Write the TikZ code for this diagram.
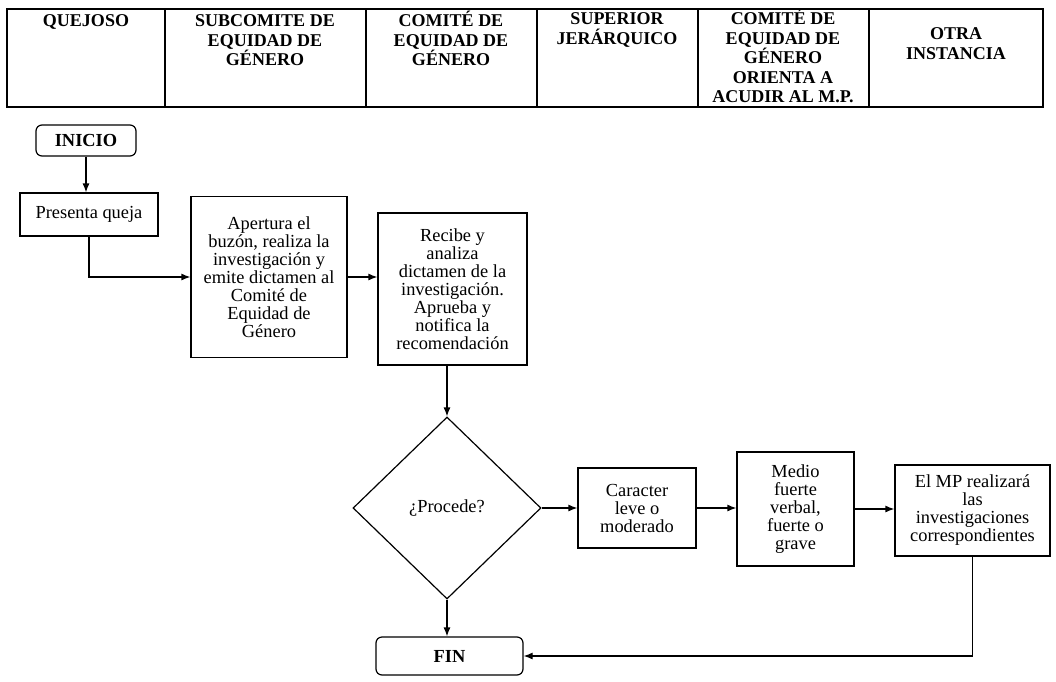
\documentclass[tikz,border=0pt]{standalone}
\usepackage{fontspec}
\setmainfont{Liberation Serif}
\usetikzlibrary{shapes.geometric,arrows.meta}
\newcommand{\hdstrut}{\rule{0pt}{8.5pt}}

\begin{document}
\begin{tikzpicture}[x=0.5pt,y={(0,-0.5pt)},line width=0.6pt,
    caja/.style ={rectangle, draw, align=center, inner sep=1pt,
                  font=\fontsize{9.2}{9}\selectfont},
    terminal/.style ={caja, rounded corners=3pt, font=\fontsize{9.2}{9}\selectfont\bfseries},
    decision/.style ={diamond, draw, aspect=1, inner sep=0pt,
                  font=\fontsize{9.2}{9}\selectfont},
    encab/.style ={anchor=north, align=center, inner sep=0pt,
                  font=\fontsize{9}{9.75}\selectfont\bfseries},
    flecha/.style ={-{Latex[length=4.5pt,width=3.5pt]}}]
   \useasboundingbox (0,0) rectangle (1056,681);
   % encabezado
   \draw (7,9) rectangle (1043,107);
   \foreach \x in {165,366,537,698,869}
      \draw (\x,9) -- (\x,107);
   \node[encab] (h1) at (86,9)  {\hdstrut QUEJOSO};
   \node[encab] (h2) at (265,9) {\hdstrut SUBCOMITE DE\\EQUIDAD DE\\GÉNERO};
   \node[encab] (h3) at (451,9) {\hdstrut COMITÉ DE\\EQUIDAD DE\\GÉNERO};
   \node[encab] (h4) at (617,7) {\hdstrut SUPERIOR\\JERÁRQUICO};
   \node[encab] (h5) at (783,7) {\hdstrut COMITÉ DE\\EQUIDAD DE\\GÉNERO\\ORIENTA A\\ACUDIR AL M.P.};
   \node[encab] (h6) at (956,22) {\hdstrut OTRA\\INSTANCIA};
   % diagrama
   \node[terminal, minimum width=50pt, minimum height=15.5pt] (inicio) at (86,140.5) {INICIO};
   \node[caja, minimum width=69pt, minimum height=21.5pt] (queja) at (89,214.5) {Presenta queja};
   \node[caja, minimum width=78pt, minimum height=80.5pt] (apertura) at (269,277) {Apertura el\\buzón, realiza la\\investigación y\\emite dictamen al\\Comité de\\Equidad de\\Género};
   \node[caja, minimum width=74.5pt, minimum height=76pt] (recibe) at (452.5,289) {Recibe y\\analiza\\dictamen de la\\investigación.\\Aprueba y\\notifica la\\recomendación};
   \node[decision, minimum width=94pt, minimum height=91pt] (procede) at (447,508) {¿Procede?};
   \node[caja, minimum width=59pt, minimum height=40pt] (leve) at (637,508) {Caracter\\leve o\\moderado};
   \node[caja, minimum width=58.5pt, minimum height=57pt] (medio) at (795.5,509) {Medio\\fuerte\\verbal,\\fuerte o\\grave};
   \node[caja, minimum width=77.5pt, minimum height=45.5pt] (mp) at (972.5,510.5) {El MP realizará\\las\\investigaciones\\correspondientes};
   \node[terminal, minimum width=73.5pt, minimum height=19pt] (fin) at (449.5,656) {FIN};
   \draw[flecha] (inicio.south) -- (inicio.south |- queja.north);
   \draw[flecha] (queja.south) |- (apertura.west);
   \draw[flecha] (apertura.east) -- (apertura.east -| recibe.west);
   \draw[flecha] (recibe.south -| procede.north) -- (procede.north);
   \draw[flecha] (procede.east) -- (procede.east -| leve.west);
   \draw[flecha] (leve.east) -- (leve.east -| medio.west);
   \draw[flecha] (medio.east) -- (medio.east -| mp.west);
   \draw[flecha] (procede.south) -- (procede.south |- fin.north);
   \draw[flecha] (mp.south) |- (fin.east);
 \end{tikzpicture}
\end{document}
